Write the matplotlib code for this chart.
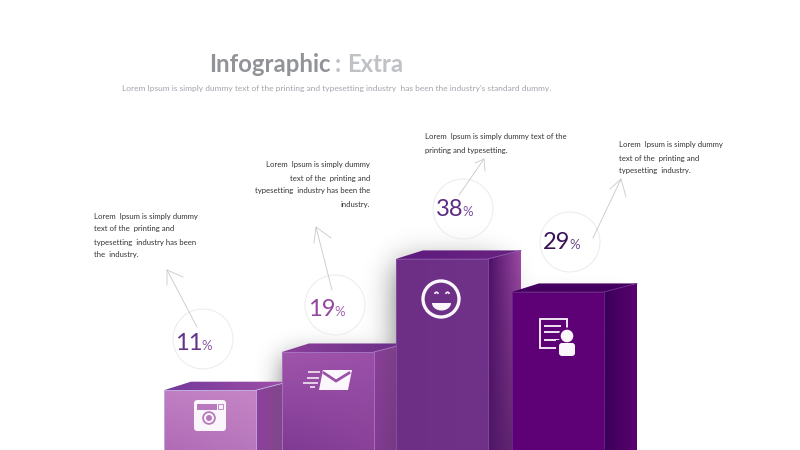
import math
import numpy as np
import matplotlib
matplotlib.use("Agg")
import matplotlib.pyplot as plt
from matplotlib.colors import to_rgb
from matplotlib.patches import Circle, Polygon, FancyBboxPatch

# ---- data ----
shares = [11, 19, 38, 29]
bar_levels = [11.5, 18.85, 36.75, 30.4]
title_main = "Infographic"
title_colon = ":"
title_rest = "Extra"
subtitle = "Lorem Ipsum is simply dummy text of the printing and typesetting industry  has been the industry's standard dummy."
notes = [
    ["Lorem  Ipsum is simply dummy", "text of the  printing and", "typesetting  industry has been", "the  industry."],
    ["Lorem  Ipsum is simply dummy", "text of the  printing and", "typesetting  industry has been the", "industry."],
    ["Lorem  Ipsum is simply dummy text of the", "printing and typesetting."],
    ["Lorem  Ipsum is simply dummy", "text of the  printing and", "typesetting  industry."],
]

# ---- layout (pixels) ----
W, H = 800, 450
PX_PER_UNIT = 5.2
bar_left = [164, 282, 396, 512]
bar_w = 92
dxl, dxr, dy = 27, 33, 8.5
note_x = [94, 370, 425, 619]
note_y = [216, 165, 137, 145]
note_ha = ["left", "right", "left", "left"]
circ = [(203, 339), (335, 305), (463, 209), (570, 242)]
num_x = [175, 308, 435.5, 542.5]
pct_x = [201.5, 334.5, 462.5, 569.5]
num_base = [350, 316, 216, 249]
num_col = ["#63358a", "#93489f", "#5c2c82", "#3a1258"]
pct_col = ["#8a5aa6", "#a565b0", "#7c4e9a", "#6b4a8a"]
arrows = [
    ((197, 327), (167, 270), (167, 285), (183, 277)),
    ((332, 290), (316, 227), (314, 243), (331, 238)),
    ((459, 195), (484, 159), (475, 163), (485, 171)),
    ((593, 238), (621, 179), (610, 189), (626, 197)),
]
# corners: top-left, top-right, bottom-left, bottom-right
front_cols = [("#c07fc3", "#c484c4", "#b06bb6", "#b878bd"),
              ("#a055ab", "#9a50a8", "#7f3a94", "#8a4299"),
              ("#6c2f85", "#703288", "#6c2f85", "#703288"),
              ("#5e0076", "#5e0076", "#5e0076", "#5e0076")]
side_cols = [("#8f409c", "#7c4a86", "#8f409c", "#7c4a86"),
             ("#8a3f98", "#75407f", "#843c94", "#6c3878"),
             ("#4c1066", "#9a4aa2", "#4f1568", "#682c72"),
             ("#3a0058", "#5a0070", "#3a0058", "#5a0070")]
top_cols = [("#73399a", "#a050a8", "#73399a", "#a050a8"),
            ("#8a3f9b", "#6a2f86", "#8a3f9b", "#6a2f86"),
            ("#5e1a7e", "#67227f", "#5e1a7e", "#6c2784"),
            ("#44005e", "#440060", "#44005e", "#440060")]
edge_cols = ["#c0b4e6", "#a878c0", "#8a50a8", "#6c2a88"]

plt.rcParams["font.family"] = ["Lato", "DejaVu Sans"]
fig = plt.figure(figsize=(8, 4.5), dpi=100, facecolor="white")

# axis for bars: x in pixels, y in value units
ax = fig.add_axes([0, 0, 1, 1], zorder=1)
ax.axis("off")
ylim = (0, H / PX_PER_UNIT)
# overlay in pixel coordinates
ov = fig.add_axes([0, 0, 1, 1], zorder=2)
ov.axis("off")
ov.patch.set_alpha(0)


def gradient(a, extent, cols, clip, z):
    tl, tr, bl, br = [np.array(to_rgb(c)) for c in cols]
    n = 48
    u, v = np.meshgrid(np.linspace(0, 1, n), np.linspace(0, 1, n))
    u, v = u[..., None], v[..., None]
    img = (1 - v) * ((1 - u) * tl + u * tr) + v * ((1 - u) * bl + u * br)
    im = a.imshow(img, extent=extent, origin="upper", aspect="auto",
                  interpolation="bilinear", zorder=z)
    im.set_clip_path(clip)


def shadow(a, x0, x1, y0, y1, sigma, alpha, z):
    # soft blurred rectangle, y in value units
    xs = np.arange(0, W) + .5
    ys = np.arange(0, H) + .5
    erf = np.vectorize(math.erf)
    fx = .5 * (erf((xs - x0) / sigma) - erf((xs - x1) / sigma))
    top, bot = H - y1 * PX_PER_UNIT, H - y0 * PX_PER_UNIT
    fy = .5 * (erf((ys - top) / sigma) - erf((ys - bot) / sigma))
    al = np.outer(fy, fx) * alpha
    img = np.zeros((H, W, 4))
    img[..., 3] = al
    a.imshow(img, extent=(0, W, 0, H / PX_PER_UNIT), origin="upper",
             aspect="auto", zorder=z, interpolation="bilinear")


# shadows behind the bars
shadow(ax, 284, 380, 0, bar_levels[1] - 1, 18, .58, 1)
shadow(ax, 398, 500, 0, bar_levels[2] - 1, 22, .6, 1)
shadow(ax, 530, 620, 0, bar_levels[3], 14, .12, 1)

du = dy / PX_PER_UNIT
fronts = ax.bar([l + bar_w / 2 for l in bar_left], bar_levels, width=bar_w,
                color="none", linewidth=0, zorder=3)
for i, (l, lev) in enumerate(zip(bar_left, bar_levels)):
    z = 3 + i * 3
    r = l + bar_w
    side = Polygon([(r, lev), (r + dxr, lev + du), (r + dxr, 0), (r, 0)], closed=True,
                   fc="none", ec="none", zorder=z)
    top = Polygon([(l, lev), (l + dxl, lev + du), (r + dxr, lev + du), (r, lev)], closed=True,
                  fc="none", ec="none", zorder=z)
    ax.add_patch(side)
    ax.add_patch(top)
    gradient(ax, (r, r + dxr, 0, lev + du), side_cols[i], side, z)
    gradient(ax, (l, r + dxr, lev, lev + du), top_cols[i], top, z)
    fronts[i].set_zorder(z + 1)
    gradient(ax, (l, r, 0, lev), front_cols[i], fronts[i], z + 1)
    ax.plot([l, l, r, r], [0, lev, lev, 0], color=edge_cols[i], lw=.6, zorder=z + 2)
    ax.plot([r, r + dxr], [lev, lev + du], color=edge_cols[i], lw=.6, zorder=z + 1)
ax.set_xlim(0, W)
ax.set_ylim(*ylim)

# title
ov.text(209.5, 72, title_main, fontsize=17.2, fontweight="bold", color="#919398", va="baseline", ha="left")
ov.text(335, 72, title_colon, fontsize=17.2, fontweight="bold", color="#bfc1c6", va="baseline", ha="left")
ov.text(347, 72, title_rest, fontsize=17.2, fontweight="bold", color="#bfc1c6", va="baseline", ha="left")
ov.text(337, 91.5, subtitle, fontsize=6.0, color="#a0a5ac", va="baseline", ha="center")

# notes
for lines, x, y, ha in zip(notes, note_x, note_y, note_ha):
    for k, s in enumerate(lines):
        ov.text(x, y + k * 13 + 2.5, s, fontsize=5.6, color="#333333", ha=ha, va="baseline")

# circles, numbers, arrows
for i, s in enumerate(shares):
    ov.add_patch(Circle(circ[i], 30, fc="none", ec="#ebebed", lw=.7))
    ov.text(num_x[i], num_base[i], str(s), fontsize=17, color=num_col[i], ha="left", va="baseline")
    ov.text(pct_x[i], num_base[i], "%", fontsize=9.5, color=pct_col[i], ha="left", va="baseline")
    a, b, c, d = arrows[i]
    ac = "#c8c8cc"
    ov.plot([a[0], b[0]], [a[1], b[1]], color=ac, lw=.6)
    ov.plot([c[0], b[0], d[0]], [c[1], b[1], d[1]], color=ac, lw=.6)

# icons
IZ = 30
white = "#fbf6fb"
# camera
cam = "#b878be"
ov.add_patch(FancyBboxPatch((196, 402), 28, 27, boxstyle="round,pad=2,rounding_size=3.5", fc=white, ec="none", zorder=IZ))
ov.add_patch(Polygon([(197, 404), (217, 404), (217, 410), (197, 410)], fc=cam, ec="none", zorder=IZ + 1))
ov.add_patch(Polygon([(218, 404), (223, 404), (223, 409), (218, 409)], fc=white, ec=cam, lw=.6, zorder=IZ + 1))
ov.add_patch(Circle((209, 418), 6.8, fc=cam, ec="none", zorder=IZ + 1))
ov.add_patch(Circle((209, 418), 5, fc=white, ec="none", zorder=IZ + 2))
ov.add_patch(Circle((209, 418), 3, fc=cam, ec="none", zorder=IZ + 3))
# envelope
env = "#9a52a8"
ov.add_patch(Polygon([(323, 370), (352, 370), (348, 390), (319, 390)], fc=white, ec="none", zorder=IZ))
ov.plot([324, 336, 349], [373, 381, 373], color=env, lw=2, solid_joinstyle="miter", zorder=IZ + 1)
for y, x0, x1 in [(372, 308, 320), (378, 307, 319), (383, 303, 318), (387, 310, 315)]:
    ov.plot([x0, x1], [y, y], color=white, lw=1.1, solid_capstyle="butt", zorder=IZ)
# smiley
ov.add_patch(Circle((441, 299), 18, fc="none", ec=white, lw=2.4, zorder=IZ))
th = np.radians(np.linspace(0, 180, 30))
ov.add_patch(Polygon(np.column_stack([441.5 + 9.5 * np.cos(th), 303 + 7.5 * np.sin(th)]),
                     closed=True, fc=white, ec="none", zorder=IZ))
for cx in (436.5, 447.5):
    th = np.radians(np.linspace(210, 330, 12))
    ov.plot(cx + 1.7 * np.cos(th), 294 + 1.7 * np.sin(th), color=white, lw=1.2, zorder=IZ)
# document with person
purple = "#5e0076"
ov.add_patch(Polygon([(540, 318.5), (567, 318.5), (567, 347.5), (540, 347.5)], fc="none", ec=white, lw=1.3, zorder=IZ))
for y, x1 in [(326, 561), (332, 565), (340, 560)]:
    ov.plot([544, x1], [y, y], color=white, lw=1.3, solid_capstyle="butt", zorder=IZ)
ov.add_patch(Circle((567, 336), 8.5, fc=purple, ec="none", zorder=IZ + 1))
ov.add_patch(Polygon([(556, 340), (578, 340), (578, 358), (556, 358)], fc=purple, ec="none", zorder=IZ + 1))
ov.add_patch(Circle((567, 336), 6.3, fc=white, ec="none", zorder=IZ + 2))
ov.add_patch(FancyBboxPatch((560, 344), 14, 11, boxstyle="round,pad=1,rounding_size=3", fc=white, ec="none", zorder=IZ + 2))

ov.set_xlim(0, W)
ov.set_ylim(H, 0)
fig.savefig("out.png", dpi=100, facecolor="white")
